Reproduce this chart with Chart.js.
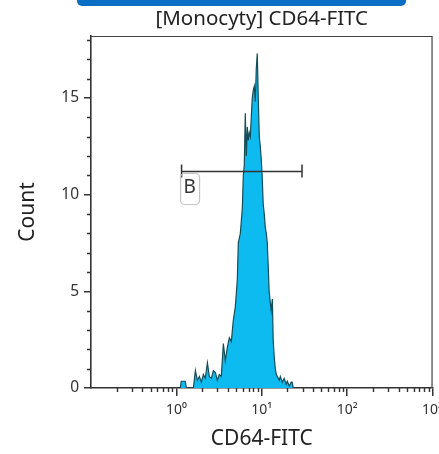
<!DOCTYPE html>
<html>
<head>
<meta charset="utf-8">
<script src="https://cdn.jsdelivr.net/npm/chart.js@4/dist/chart.umd.min.js"></script>
<style>
  html, body { margin: 0; padding: 0; background: #fff; overflow: hidden; }
</style>
</head>
<body>
<canvas id="histo" width="449" height="454"></canvas>
<script>
// CD64-FITC intensity (bin position) and event count per bin
const intensity = [1.11,1.14,1.27,1.31,1.58,1.67,1.76,1.86,1.96,2.07,2.18,2.31,2.43,2.57,2.71,
  2.86,3.02,3.18,3.36,3.55,3.74,3.95,4.17,4.40,4.64,4.90,5.17,5.31,5.61,5.92,6.08,6.24,6.41,6.59,
  6.77,6.95,7.14,7.34,7.54,7.74,7.95,8.17,8.40,8.62,8.86,9.10,9.35,9.61,9.87,10.1,10.4,10.7,11.0,
  11.3,11.6,11.9,12.2,12.6,12.9,13.3,13.6,14.0,14.4,14.8,15.2,16.0,16.5,17.4,18.3,19.3,19.9,21.0,
  22.1,22.7,23.4];
const counts = [0,0.35,0.35,0,0,0.9,0.4,0.6,0.3,0.7,0.5,1.3,0.6,0.5,0.9,0.8,0.4,0.7,0.6,2.3,
  1.4,2.1,2.6,2.4,3.5,4.2,5.6,7.5,8.0,9.3,11.0,11.5,14.2,12.0,13.5,12.8,13.2,13.0,14.0,15.0,
  15.4,15.6,14.8,16.5,17.3,15.0,13.0,12.5,11.8,11.0,9.5,9.0,8.3,8.0,7.5,6.3,5.0,4.4,4.0,4.6,
  2.5,1.6,1.0,0.7,0.6,0.4,0.6,0.3,0.5,0.2,0.35,0.1,0.3,0.3,0];

const xTicks = [1, 10, 100, 1000];
const xTickLabels = ['10⁰', '10¹', '10²', '10³'];
const yTicks = [0, 5, 10, 15];

// marker region "B"
const gateName = 'B';
const gateFrom = 1.15;
const gateTo = 29.6;
const gateLevel = 11.2;

const FONT = 'Noto Sans';
const AXIS = '#333';

const decor = {
  id: 'decor',
  beforeDraw(chart) {
    const ctx = chart.ctx;
    const a = chart.chartArea;
    ctx.save();
    // blue header strip
    ctx.fillStyle = '#0a6fc4';
    ctx.beginPath();
    ctx.roundRect(77, -8, 329, 14, 5);
    ctx.fill();
    // title
    ctx.fillStyle = '#222';
    ctx.font = '20.5px "' + FONT + '"';
    ctx.textAlign = 'center';
    ctx.textBaseline = 'middle';
    ctx.fillText('[Monocyty] CD64-FITC', (a.left + a.right) / 2, 19);
    ctx.restore();
  },
  afterDraw(chart) {
    const {ctx, chartArea: a, scales: {x, y}} = chart;
    ctx.save();
    // top and right frame
    ctx.strokeStyle = '#444';
    ctx.lineWidth = 1.2;
    ctx.beginPath();
    ctx.moveTo(a.left, a.top + 0.5);
    ctx.lineTo(a.right - 0.5, a.top + 0.5);
    ctx.lineTo(a.right - 0.5, a.bottom);
    ctx.stroke();

    // minor ticks
    ctx.strokeStyle = AXIS;
    ctx.lineWidth = 1.4;
    ctx.beginPath();
    for (let dec = 0.1; dec < 1000; dec *= 10) {
      for (let m = 2; m <= 9; m++) {
        const px = Math.round(x.getPixelForValue(m * dec)) + 0.5;
        ctx.moveTo(px, a.bottom);
        ctx.lineTo(px, a.bottom + 4);
      }
    }
    for (let v = 1; v <= 18; v++) {
      if (v % 5 === 0) continue;
      const py = Math.round(y.getPixelForValue(v)) + 0.5;
      ctx.moveTo(a.left - 4, py);
      ctx.lineTo(a.left, py);
    }
    ctx.stroke();

    // gate marker
    const gx1 = x.getPixelForValue(gateFrom);
    const gx2 = x.getPixelForValue(gateTo);
    const gy = Math.round(y.getPixelForValue(gateLevel)) + 0.5;
    ctx.strokeStyle = '#333';
    ctx.lineWidth = 1.5;
    ctx.beginPath();
    ctx.moveTo(gx1, gy);
    ctx.lineTo(gx2, gy);
    ctx.moveTo(gx1, gy - 7);
    ctx.lineTo(gx1, gy + 6);
    ctx.moveTo(gx2, gy - 7);
    ctx.lineTo(gx2, gy + 6);
    ctx.stroke();

    ctx.strokeStyle = '#c4c4c4';
    ctx.lineWidth = 1.2;
    ctx.beginPath();
    ctx.roundRect(gx1 - 1, gy + 2, 19, 31, 4);
    ctx.stroke();
    ctx.fillStyle = '#333';
    ctx.font = '19px "' + FONT + '"';
    ctx.textAlign = 'left';
    ctx.textBaseline = 'middle';
    ctx.fillText(gateName, gx1 + 2, gy + 16);
    ctx.restore();
  }
};

new Chart(document.getElementById('histo'), {
  type: 'line',
  data: {
    datasets: [{
      data: intensity.map((v, i) => ({x: v, y: counts[i]})),
      borderColor: '#124e5a',
      borderWidth: 1.2,
      backgroundColor: '#0dbbf0',
      fill: 'origin',
      tension: 0,
      pointRadius: 0
    }]
  },
  options: {
    responsive: false,
    animation: false,
    devicePixelRatio: 1,
    layout: { padding: { left: 0, right: 8, top: 36, bottom: 0 }, autoPadding: false },
    plugins: {
      legend: { display: false },
      tooltip: { enabled: false }
    },
    scales: {
      x: {
        type: 'logarithmic',
        min: 0.1,
        max: 1000,
        afterBuildTicks: s => { s.ticks = xTicks.map(v => ({value: v})); },
        afterFit: s => { s.height = 66; },
        ticks: {
          autoSkip: false,
          maxRotation: 0,
          padding: 6,
          color: '#333',
          font: { family: FONT, size: 14 },
          callback: v => xTickLabels[xTicks.indexOf(v)]
        },
        grid: { drawOnChartArea: false, tickLength: 8, color: AXIS, lineWidth: 1.5 },
        border: { display: true, color: AXIS, width: 1.6 },
        title: {
          display: true,
          text: 'CD64-FITC',
          color: '#222',
          font: { family: FONT, size: 21 },
          padding: { top: 0, bottom: 2 }
        }
      },
      y: {
        min: 0,
        max: 18.2,
        afterBuildTicks: s => { s.ticks = yTicks.map(v => ({value: v})); },
        afterFit: s => { s.width = 91; },
        ticks: {
          padding: 5,
          color: '#333',
          font: { family: FONT, size: 15.5 }
        },
        grid: { drawOnChartArea: false, tickLength: 7, color: AXIS, lineWidth: 1.5 },
        border: { display: true, color: AXIS, width: 1.6 },
        title: {
          display: true,
          text: 'Count',
          color: '#222',
          font: { family: FONT, size: 21 },
          padding: { top: 15, bottom: 0 }
        }
      }
    }
  },
  plugins: [decor]
});
</script>
</body>
</html>
